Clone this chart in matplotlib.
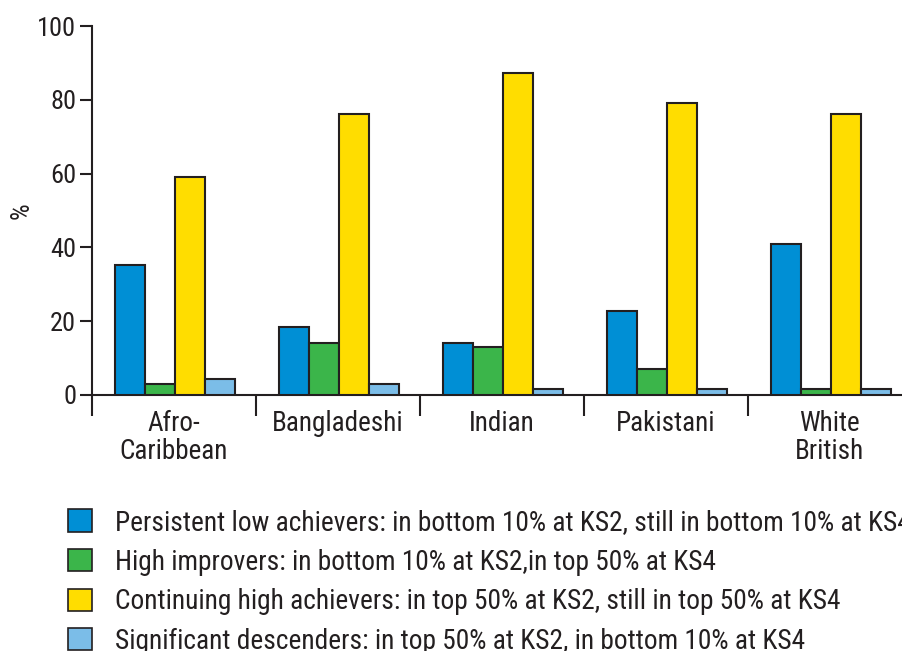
import matplotlib
matplotlib.use("Agg")
import matplotlib.pyplot as plt
from matplotlib import font_manager as fm
from matplotlib.patches import Patch
import numpy as np

# pick a condensed sans if one is installed
installed = set(f.name for f in fm.fontManager.ttflist)
fam = ['DejaVu Sans']
for cand in ['Roboto Condensed', 'Archivo Narrow', 'PT Sans Narrow', 'Liberation Sans Narrow',
             'Open Sans Condensed', 'Asap Condensed', 'IBM Plex Sans Condensed']:
    if cand in installed:
        fam = [cand, 'DejaVu Sans']
        break
plt.rcParams['font.family'] = fam

categories = ['Afro-\nCaribbean', 'Bangladeshi', 'Indian', 'Pakistani', 'White\nBritish']
series_names = [
    'Persistent low achievers: in bottom 10% at KS2, still in bottom 10% at KS4',
    'High improvers: in bottom 10% at KS2,in top 50% at KS4',
    'Continuing high achievers: in top 50% at KS2, still in top 50% at KS4',
    'Significant descenders: in top 50% at KS2, in bottom 10% at KS4',
]
persistent_low = [35.2, 18.5, 14.2, 22.7, 41.0]
high_improvers = [2.9, 14.2, 12.9, 7.1, 1.5]
continuing_high = [59.1, 76.2, 87.3, 79.0, 76.2]
significant_desc = [4.3, 3.0, 1.5, 1.5, 1.5]
y_ticks = [0, 20, 40, 60, 80, 100]

colors = ['#008fd5', '#3bb54a', '#ffdd00', '#7bbde8']
edge = '#231f20'
text_col = '#231f20'

fig = plt.figure(figsize=(9.02, 6.51), dpi=100)
ax = fig.add_axes([91.5 / 902, 256 / 651, 820 / 902, 369 / 651])

x = np.arange(len(categories))
w = 0.183
all_series = [persistent_low, high_improvers, continuing_high, significant_desc]
for i, vals in enumerate(all_series):
    ax.bar(x + (i - 1.5) * w + 0.01, vals, width=w, color=colors[i],
           edgecolor=edge, linewidth=1.5, zorder=3)

ax.set_xlim(-0.5, 4.5)
ax.set_ylim(0, 100)
ax.set_yticks(y_ticks)
ax.tick_params(axis='y', length=9, width=1.5, labelsize=19, pad=2, color=edge,
               labelcolor=text_col)

# category dividers as major ticks, labels as minor ticks
ax.set_xticks(np.arange(-0.5, 5, 1.0))
ax.set_xticklabels([])
ax.tick_params(axis='x', which='major', direction='out', length=15, width=1.5, color=edge)
ax.set_xticks(x, minor=True)
ax.set_xticklabels(categories, minor=True, fontsize=19.5, linespacing=1.03, color=text_col)
ax.tick_params(axis='x', which='minor', length=0, pad=11)

for s in ['top', 'right']:
    ax.spines[s].set_visible(False)
for s in ['left', 'bottom']:
    ax.spines[s].set_linewidth(1.5)
    ax.spines[s].set_color(edge)
ax.spines['left'].set_bounds(0, 100)

ax.set_ylabel('%', fontsize=19, color=text_col)
ax.yaxis.set_label_coords(-58 / 820, 0.5)

handles = [Patch(facecolor=c, edgecolor=edge, linewidth=1.2) for c in colors]
leg = fig.legend(handles, series_names, loc='upper left',
                 bbox_to_anchor=(68 / 902, 1 - 509 / 651), frameon=False,
                 fontsize=19.7, handlelength=0.87, handleheight=0.87,
                 handletextpad=0.84, labelspacing=0.46, borderaxespad=0, borderpad=0)
for t in leg.get_texts():
    t.set_color(text_col)

fig.savefig('out.png', dpi=100)
